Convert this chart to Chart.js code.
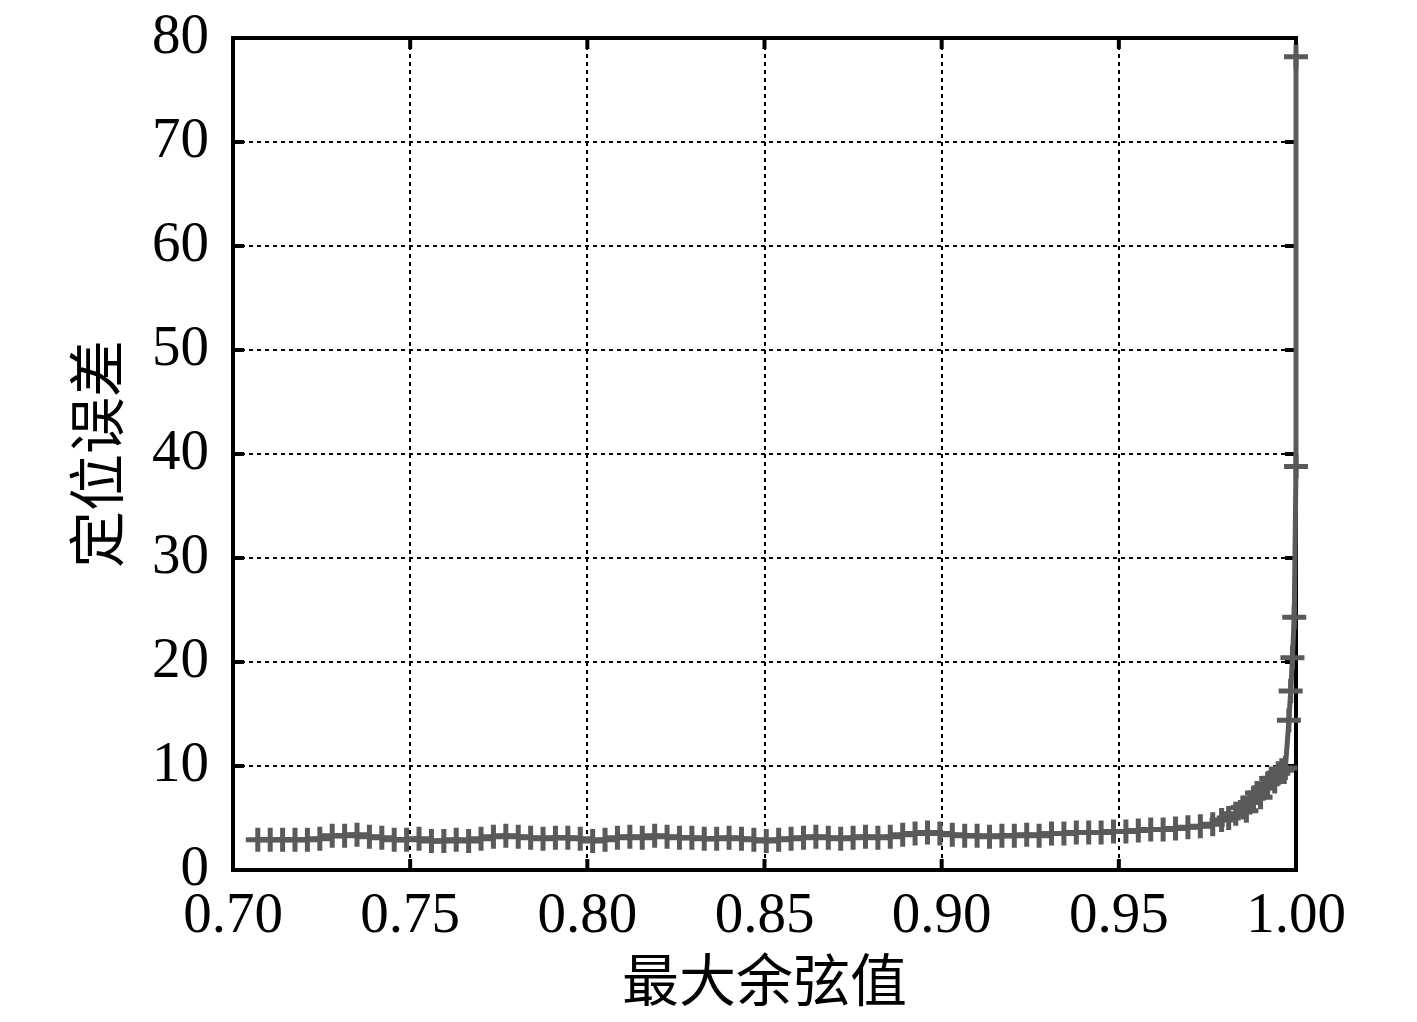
<!DOCTYPE html>
<html>
<head>
<meta charset="utf-8">
<script src="https://cdn.jsdelivr.net/npm/chart.js@4.4.1/dist/chart.umd.min.js"></script>
<style>
  html, body { margin: 0; padding: 0; background: #fff; }
  #wrap { width: 1417px; height: 1022px; }
</style>
</head>
<body>
<div id="wrap"><canvas id="myChart" width="1417" height="1022"></canvas></div>
<script>
// max cosine value (x)
const cosValues = [
    0.707, 0.7105, 0.714, 0.7175, 0.721, 0.7245, 0.728, 0.7315, 0.735, 0.7385,
    0.742, 0.7455, 0.749, 0.7525, 0.756, 0.7595, 0.763, 0.7665, 0.770, 0.7735,
    0.777, 0.7805, 0.784, 0.7875, 0.791, 0.7945, 0.798, 0.8015, 0.805, 0.8085,
    0.812, 0.8155, 0.819, 0.8225, 0.826, 0.8295, 0.833, 0.8365, 0.840, 0.8435,
    0.847, 0.8505, 0.854, 0.8575, 0.861, 0.8645, 0.868, 0.8715, 0.875, 0.8785,
    0.882, 0.8855, 0.889, 0.8925, 0.896, 0.8995, 0.903, 0.9065, 0.910, 0.9135,
    0.917, 0.9205, 0.924, 0.9275, 0.931, 0.9345, 0.938, 0.9415, 0.945, 0.9485,
    0.952, 0.9555, 0.959, 0.9625, 0.966, 0.9695,
    0.973, 0.9765, 0.979, 0.981, 0.983, 0.985, 0.986, 0.987, 0.988, 0.989,
    0.990, 0.991, 0.992, 0.993, 0.994, 0.995, 0.996, 0.997, 0.998, 0.9985,
    0.999, 0.9995, 1.0, 1.0
];

// positioning error (y)
const errValues = [
    2.9, 2.9, 2.9, 2.9, 2.9, 3.0, 3.3, 3.3, 3.4, 3.2,
    3.1, 2.9, 2.9, 3.0, 2.8, 2.8, 2.9, 2.8, 3.0, 3.2,
    3.3, 3.2, 3.1, 3.0, 3.1, 3.1, 3.0, 2.8, 2.9, 3.1,
    3.2, 3.1, 3.3, 3.2, 3.1, 3.1, 3.0, 3.0, 3.1, 3.0,
    2.9, 2.8, 2.9, 3.0, 3.1, 3.2, 3.1, 3.0, 3.1, 3.2,
    3.1, 3.2, 3.4, 3.5, 3.6, 3.5, 3.4, 3.3, 3.3, 3.2,
    3.3, 3.3, 3.4, 3.3, 3.5, 3.5, 3.6, 3.6, 3.6, 3.7,
    3.7, 3.8, 3.9, 3.9, 4.0, 4.1,
    4.2, 4.4, 4.8, 5.0, 5.4, 6.0, 5.7, 6.5, 6.9, 7.4,
    7.0, 7.9, 8.3, 8.8, 8.5, 9.3, 9.6, 9.8, 14.4, 17.2,
    20.4, 24.3, 38.8, 78.2
];

const xTicks = [0.70, 0.75, 0.80, 0.85, 0.90, 0.95, 1.00];
const yTicks = [0, 10, 20, 30, 40, 50, 60, 70, 80];

const points = cosValues.map((x, i) => ({ x: x, y: errValues[i] }));

const tickFont = { family: "'Liberation Serif', 'Times New Roman', serif", size: 57 };
const titleFont = { family: "'Liberation Serif', 'Noto Sans CJK SC', serif", size: 57 };

// black frame with short inward ticks, drawn under the line
const framePlugin = {
    id: 'frame',
    beforeDatasetsDraw(chart) {
        const ctx = chart.ctx;
        const a = chart.chartArea;
        const xs = chart.scales.x, ys = chart.scales.y;
        ctx.save();
        ctx.strokeStyle = '#000';
        ctx.lineWidth = 4;
        ctx.beginPath();
        xTicks.forEach(v => {
            const px = xs.getPixelForValue(v);
            ctx.moveTo(px, a.bottom); ctx.lineTo(px, a.bottom - 11);
            ctx.moveTo(px, a.top); ctx.lineTo(px, a.top + 11);
        });
        yTicks.forEach(v => {
            const py = ys.getPixelForValue(v);
            ctx.moveTo(a.left, py); ctx.lineTo(a.left + 11, py);
            ctx.moveTo(a.right, py); ctx.lineTo(a.right - 11, py);
        });
        ctx.stroke();
        ctx.strokeRect(a.left, a.top, a.right - a.left, a.bottom - a.top);
        ctx.restore();
    }
};

const config = {
    type: 'line',
    data: {
        datasets: [{
            data: points,
            borderColor: '#5a5a5a',
            backgroundColor: '#5a5a5a',
            borderWidth: 5,
            pointStyle: 'cross',
            pointRadius: 12,
            pointBorderWidth: 5,
            pointBorderColor: '#5a5a5a',
            tension: 0,
            clip: false
        }]
    },
    options: {
        responsive: false,
        animation: false,
        layout: { padding: { top: 38, right: 121, bottom: 0, left: 0 } },
        plugins: {
            legend: { display: false },
            tooltip: { enabled: false }
        },
        scales: {
            x: {
                type: 'linear',
                min: 0.70,
                max: 1.00,
                afterFit: (scale) => { scale.height = 152; },
                afterBuildTicks: (scale) => { scale.ticks = xTicks.map(v => ({ value: v })); },
                ticks: {
                    color: '#000',
                    font: tickFont,
                    padding: 13,
                    maxRotation: 0,
                    callback: (v) => Number(v).toFixed(2)
                },
                grid: { color: '#000', lineWidth: 2, drawTicks: false },
                border: { display: false, dash: [4, 4] },
                title: {
                    display: true,
                    text: '最大余弦值',
                    color: '#000',
                    font: titleFont,
                    padding: { top: 0, bottom: 2 }
                }
            },
            y: {
                min: 0,
                max: 80,
                afterFit: (scale) => {
                    scale.width = 233;
                    scale.paddingTop = 0;
                    scale.paddingBottom = 0;
                },
                afterBuildTicks: (scale) => { scale.ticks = yTicks.map(v => ({ value: v })); },
                ticks: {
                    color: '#000',
                    font: tickFont,
                    padding: 24
                },
                grid: { color: '#000', lineWidth: 2, drawTicks: false },
                border: { display: false, dash: [4, 4] },
                title: {
                    display: true,
                    text: '定位误差',
                    color: '#000',
                    font: titleFont,
                    padding: { top: 69, bottom: 0 }
                }
            }
        }
    },
    plugins: [framePlugin]
};

new Chart("myChart", config);
</script>
</body>
</html>
